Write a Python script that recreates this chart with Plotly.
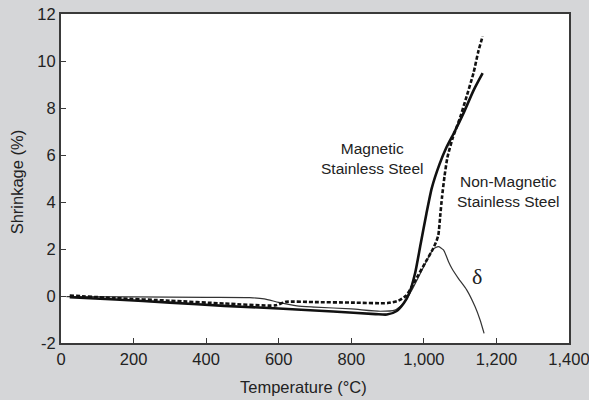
import plotly.graph_objects as go

# Magnetic stainless steel (thick solid)
mag_temp = [24, 150, 300, 450, 600, 750, 867, 898, 924, 945, 960, 976, 991, 1007, 1022, 1043, 1063, 1085, 1109, 1137, 1162]
mag_val = [-0.05, -0.15, -0.28, -0.42, -0.53, -0.66, -0.77, -0.79, -0.65, -0.3, 0.13, 0.98, 2.2, 3.5, 4.6, 5.6, 6.35, 7.0, 7.77, 8.75, 9.48]

# Non-magnetic stainless steel (dashed)
nonmag_temp = [24, 150, 300, 450, 590, 620, 700, 800, 900, 930, 950, 965, 985, 1005, 1025, 1035, 1040, 1045, 1050, 1057, 1065, 1080, 1100, 1118, 1137, 1150, 1162]
nonmag_val = [0.02, -0.09, -0.2, -0.32, -0.4, -0.25, -0.26, -0.28, -0.3, -0.2, 0.0, 0.35, 0.9, 1.45, 2.0, 2.35, 2.6, 3.4, 4.2, 5.1, 5.9, 6.75, 7.6, 8.5, 9.5, 10.4, 11.05]

# Delta ferrite (thin solid)
delta_temp = [15, 200, 400, 520, 560, 600, 650, 700, 800, 880, 920, 945, 965, 985, 1008, 1026, 1040, 1054, 1068, 1077, 1095, 1118, 1141, 1155, 1166]
delta_val = [-0.03, -0.04, -0.06, -0.07, -0.12, -0.27, -0.42, -0.47, -0.55, -0.65, -0.6, -0.3, 0.2, 0.8, 1.5, 2.0, 2.1, 1.96, 1.46, 1.18, 0.75, 0.26, -0.45, -1.02, -1.59]

x_ticks = [0, 200, 400, 600, 800, 1000, 1200, 1400]
x_tick_labels = ["0", "200", "400", "600", "800", "1,000", "1,200", "1,400"]
y_ticks = [-2, 0, 2, 4, 6, 8, 10, 12]
y_tick_labels = ["-2", "0", "2", "4", "6", "8", "10", "12"]

FONT = "Liberation Sans, Arial, sans-serif"
TXT = "#222222"
AX = "#3a3a3a"

fig = go.Figure()
fig.add_trace(go.Scatter(x=delta_temp, y=delta_val, mode="lines",
                         line=dict(color="#333333", width=1.2, shape="spline", smoothing=0.6),
                         showlegend=False, hoverinfo="skip"))
fig.add_trace(go.Scatter(x=mag_temp, y=mag_val, mode="lines",
                         line=dict(color="#111111", width=2.6, shape="spline", smoothing=0.6),
                         showlegend=False, hoverinfo="skip"))
fig.add_trace(go.Scatter(x=nonmag_temp, y=nonmag_val, mode="lines",
                         line=dict(color="#111111", width=2.6, dash="4px,2px", shape="spline", smoothing=0.6),
                         showlegend=False, hoverinfo="skip"))

fig.update_layout(
    width=589, height=400,
    margin=dict(l=60.5, r=20, t=14, b=57, autoexpand=False),
    paper_bgcolor="#d5d6d8",
    plot_bgcolor="#ffffff",
    font=dict(family=FONT, color=TXT, size=16),
    xaxis=dict(range=[0, 1400], tickvals=x_ticks, ticktext=x_tick_labels,
               ticks="inside", ticklen=5, tickwidth=1.2, tickcolor=AX,
               ticklabeloverflow="allow", automargin=False,
               showline=True, linecolor=AX, linewidth=2, mirror=True,
               showgrid=False, zeroline=False, tickfont=dict(size=16.5, family=FONT, color=TXT)),
    yaxis=dict(range=[-2, 12], tickvals=y_ticks, ticktext=y_tick_labels,
               ticks="inside", ticklen=5, tickwidth=1.2, tickcolor=AX,
               automargin=False,
               showline=True, linecolor=AX, linewidth=2, mirror=True,
               showgrid=False, zeroline=False, tickfont=dict(size=16.5, family=FONT, color=TXT)),
    annotations=[
        dict(text="Temperature (°C)", xref="paper", yref="paper", x=0.477, y=-0.133,
             showarrow=False, font=dict(size=16.5, family=FONT, color=TXT), xanchor="center", yanchor="middle"),
        dict(text="Shrinkage (%)", xref="paper", yref="paper", x=-0.0875, y=0.49, textangle=-90,
             showarrow=False, font=dict(size=16.5, family=FONT, color=TXT), xanchor="center", yanchor="middle"),
        dict(text="Magnetic<br>Stainless Steel", x=858, y=5.87, xref="x", yref="y",
             showarrow=False, font=dict(size=15.5, family=FONT, color=TXT), align="center"),
        dict(text="Non-Magnetic<br>Stainless Steel", x=1233, y=4.44, xref="x", yref="y",
             showarrow=False, font=dict(size=15.5, family=FONT, color=TXT), align="center"),
        dict(text="δ", x=1146, y=0.82, xref="x", yref="y",
             showarrow=False, font=dict(size=22, family="Liberation Serif, DejaVu Serif, serif", color=TXT)),
    ],
)

fig.write_html("out.html", config={"displayModeBar": False},
               post_script="document.body.style.margin='0';document.body.style.padding='0';")
